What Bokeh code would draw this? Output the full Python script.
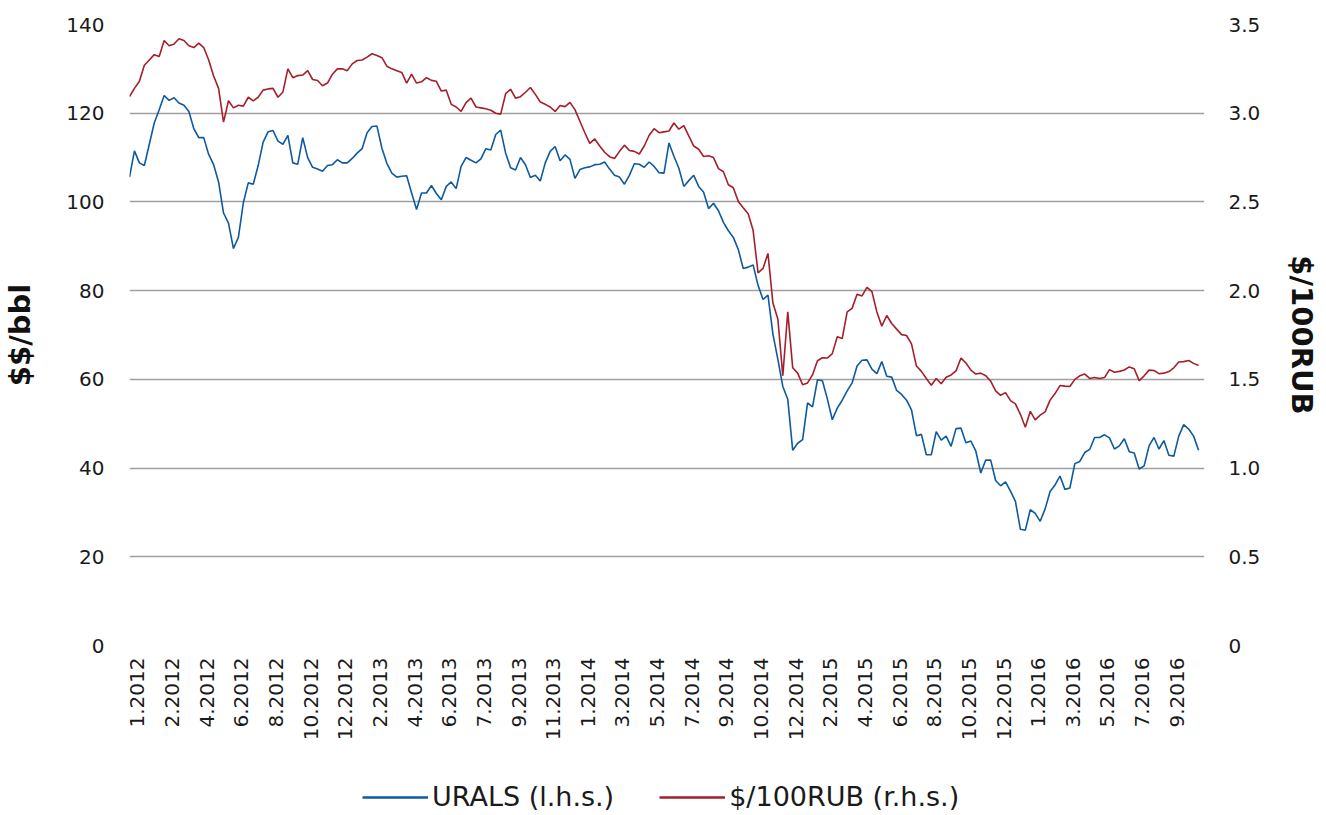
import numpy as np
from bokeh.plotting import figure
from bokeh.layouts import column
from bokeh.models import (Range1d, LinearAxis, FixedTicker, Legend, LegendItem,
                          NumeralTickFormatter)
from bokeh.embed import file_html
from bokeh.resources import INLINE

# ---- data (one sample per ~week) ----
urals = [105.6, 111.5, 108.8, 108.2, 113.0, 117.8, 120.8, 124.0, 122.9, 123.5,
         122.3, 121.8, 120.4, 116.5, 114.5, 114.5, 110.7, 108.4, 104.5, 97.5,
         95.2, 89.5, 92.0, 99.8, 104.3, 104.0, 108.2, 113.5, 115.8, 116.1,
         113.7, 113.0, 115.0, 108.8, 108.5, 114.5, 110.0, 107.8, 107.4, 106.9,
         108.2, 108.4, 109.5, 108.8, 108.8, 109.8, 111.0, 112.0, 115.6, 117.0,
         117.1, 112.1, 108.7, 106.5, 105.6, 105.8, 105.9, 102.0, 98.3, 102.0,
         102.0, 103.7, 101.9, 100.5, 103.5, 104.5, 103.0, 108.0, 110.0, 109.4,
         108.8, 109.7, 112.0, 111.7, 115.2, 116.2, 111.0, 107.7, 107.2, 110.0,
         108.4, 105.5, 106.0, 104.7, 108.8, 111.4, 112.5, 109.3, 110.6, 109.6,
         105.3, 107.3, 107.7, 107.9, 108.4, 108.5, 109.0, 107.4, 106.0, 105.6,
         104.0, 106.0, 108.6, 108.5, 107.8, 109.0, 108.0, 106.6, 106.5, 113.3,
         110.3, 107.6, 103.5, 104.8, 106.0, 103.5, 102.2, 98.5, 99.7, 98.0,
         95.4, 93.5, 92.0, 89.3, 85.0, 85.3, 85.8, 81.2, 78.0, 79.0,
         70.2, 64.5, 58.4, 55.5, 44.0, 45.6, 46.4, 54.7, 53.8, 59.9,
         59.7, 55.6, 50.9, 53.5, 55.3, 57.4, 59.2, 63.0, 64.3, 64.4,
         62.3, 61.3, 64.0, 60.7, 60.5, 57.5, 56.6, 55.3, 53.1, 47.3,
         47.6, 43.0, 43.0, 48.2, 46.3, 47.2, 44.9, 48.9, 49.0, 45.7,
         46.1, 43.8, 38.9, 41.8, 41.8, 37.2, 36.0, 36.9, 34.8, 32.5,
         26.2, 26.0, 30.6, 29.8, 28.0, 30.8, 34.7, 36.2, 38.2, 35.2,
         35.5, 41.0, 41.5, 43.5, 44.2, 46.9, 46.9, 47.5, 46.8, 44.3,
         45.0, 46.6, 43.7, 43.4, 39.8, 40.5, 45.0, 46.9, 44.3, 46.2,
         42.9, 42.7, 47.2, 49.8, 48.8, 47.2, 44.0]

usd_per_100rub = [3.094, 3.14, 3.18, 3.27, 3.30, 3.33, 3.32, 3.41, 3.38, 3.39,
                  3.42, 3.41, 3.38, 3.37, 3.395, 3.37, 3.30, 3.21, 3.14, 2.95,
                  3.07, 3.03, 3.045, 3.04, 3.09, 3.07, 3.09, 3.13, 3.137, 3.14,
                  3.09, 3.12, 3.25, 3.20, 3.212, 3.215, 3.24, 3.19, 3.184, 3.155,
                  3.17, 3.22, 3.25, 3.25, 3.24, 3.278, 3.297, 3.30, 3.316, 3.335,
                  3.325, 3.313, 3.265, 3.25, 3.24, 3.23, 3.17, 3.22, 3.17, 3.177,
                  3.20, 3.185, 3.18, 3.125, 3.13, 3.05, 3.035, 3.01, 3.06, 3.085,
                  3.035, 3.03, 3.025, 3.017, 3.00, 2.995, 3.11, 3.135, 3.085, 3.093,
                  3.118, 3.145, 3.106, 3.063, 3.05, 3.035, 3.01, 3.043, 3.037, 3.061,
                  3.02, 2.955, 2.89, 2.83, 2.855, 2.815, 2.78, 2.755, 2.745, 2.785,
                  2.82, 2.79, 2.785, 2.77, 2.815, 2.876, 2.913, 2.89, 2.895, 2.90,
                  2.945, 2.91, 2.93, 2.872, 2.815, 2.797, 2.756, 2.76, 2.75, 2.688,
                  2.67, 2.597, 2.58, 2.503, 2.467, 2.433, 2.34, 2.10, 2.125, 2.21,
                  1.93, 1.84, 1.52, 1.88, 1.565, 1.535, 1.47, 1.48, 1.525, 1.605,
                  1.622, 1.62, 1.645, 1.74, 1.73, 1.88, 1.90, 1.98, 1.97, 2.019,
                  1.995, 1.88, 1.80, 1.86, 1.815, 1.783, 1.752, 1.747, 1.70, 1.575,
                  1.545, 1.505, 1.467, 1.505, 1.475, 1.512, 1.525, 1.548, 1.62, 1.592,
                  1.552, 1.53, 1.535, 1.52, 1.49, 1.435, 1.41, 1.425, 1.38, 1.362,
                  1.303, 1.23, 1.32, 1.272, 1.298, 1.317, 1.383, 1.42, 1.465, 1.462,
                  1.46, 1.50, 1.52, 1.53, 1.505, 1.51, 1.505, 1.51, 1.555, 1.54,
                  1.545, 1.553, 1.57, 1.56, 1.493, 1.52, 1.552, 1.55, 1.532, 1.535,
                  1.544, 1.565, 1.598, 1.60, 1.606, 1.59, 1.578]

tick_labels = ["1.2012", "2.2012", "4.2012", "6.2012", "8.2012", "10.2012",
               "12.2012", "2.2013", "4.2013", "6.2013", "7.2013", "9.2013",
               "11.2013", "1.2014", "3.2014", "5.2014", "7.2014", "9.2014",
               "10.2014", "12.2014", "2.2015", "4.2015", "6.2015", "8.2015",
               "10.2015", "12.2015", "1.2016", "3.2016", "5.2016", "7.2016",
               "9.2016"]

series_names = ["URALS (l.h.s.)", "$/100RUB (r.h.s.)"]

left_ticks = [0, 20, 40, 60, 80, 100, 120, 140]
right_ticks = [0, 0.5, 1.0, 1.5, 2.0, 2.5, 3.0, 3.5]

BLUE = "#0d5aa0"
RED = "#a51f2b"
FONT = "DejaVu Sans"
TXT = "#1a1a1a"
W = 1322

x = np.arange(len(urals))
tick_pos = [1.6 + 7 * j for j in range(len(tick_labels))]

p = figure(width=W, height=770, output_backend="svg", toolbar_location=None,
           x_range=Range1d(0, 217.2), y_range=Range1d(0, 140),
           min_border_left=127, min_border_right=109, min_border_top=24,
           min_border_bottom=125)
p.outline_line_color = None
p.background_fill_color = "white"
p.border_fill_color = "white"

p.extra_y_ranges = {"rub": Range1d(0, 3.5)}

p.line(x, urals, line_color=BLUE, line_width=1.6)
p.line(x, usd_per_100rub, line_color=RED, line_width=1.6, y_range_name="rub")

# grid
p.xgrid.grid_line_color = None
p.ygrid.grid_line_color = "#a0a0a0"
p.ygrid.grid_line_width = 1.3
p.ygrid.ticker = FixedTicker(ticks=left_ticks)

# x axis
xa = p.xaxis[0]
xa.ticker = FixedTicker(ticks=tick_pos)
xa.major_label_overrides = {t: l for t, l in zip(tick_pos, tick_labels)}
xa.major_label_orientation = np.pi / 2
xa.axis_line_color = None
xa.major_tick_line_color = None
xa.minor_tick_line_color = None
xa.major_label_text_font = FONT
xa.major_label_text_font_size = "20px"
xa.major_label_text_color = TXT
xa.major_label_standoff = 6

# left axis
ya = p.yaxis[0]
ya.ticker = FixedTicker(ticks=left_ticks)
ya.axis_line_color = None
ya.major_tick_line_color = None
ya.minor_tick_line_color = None
ya.major_label_text_font = FONT
ya.major_label_text_font_size = "20px"
ya.major_label_text_color = TXT
ya.major_label_standoff = 19
ya.axis_label = "$$/bbl"
ya.axis_label_text_font = FONT
ya.axis_label_text_font_style = "bold"
ya.axis_label_text_font_size = "29px"
ya.axis_label_text_color = "#111111"
ya.axis_label_standoff = 26

# right axis
ra = LinearAxis(y_range_name="rub", ticker=FixedTicker(ticks=right_ticks),
                formatter=NumeralTickFormatter(format="0.0"))
ra.major_label_overrides = {0: "0"}
ra.axis_line_color = None
ra.major_tick_line_color = None
ra.minor_tick_line_color = None
ra.major_label_text_font = FONT
ra.major_label_text_font_size = "20px"
ra.major_label_text_color = TXT
ra.major_label_standoff = 18
ra.axis_label = "$/100RUB"
ra.axis_label_text_font = FONT
ra.axis_label_text_font_style = "bold"
ra.axis_label_text_font_size = "29px"
ra.axis_label_text_color = "#111111"
ra.axis_label_standoff = 22
p.add_layout(ra, "right")

# ---- legend strip under the chart (series drawn out of its visible range) ----
lg = figure(width=W, height=44, output_backend="svg", toolbar_location=None,
            x_range=Range1d(0, 1), y_range=Range1d(-1, 0),
            min_border_left=0, min_border_right=0, min_border_top=0,
            min_border_bottom=0)
lg.axis.visible = False
lg.grid.visible = False
lg.outline_line_color = None
lg.background_fill_color = "white"
lg.border_fill_color = "white"
k_blue = lg.line(x, urals, line_color=BLUE, line_width=2.6)
k_red = lg.line(x, usd_per_100rub, line_color=RED, line_width=2.6)

legend = Legend(items=[LegendItem(label=series_names[0], renderers=[k_blue]),
                       LegendItem(label=series_names[1], renderers=[k_red])],
                orientation="horizontal", location=(233, 2),
                border_line_color=None, background_fill_alpha=0,
                label_text_font=FONT, label_text_font_size="27px",
                label_text_color=TXT, glyph_width=66, glyph_height=24,
                label_standoff=4, spacing=45, padding=0, margin=0)
lg.add_layout(legend)

layout = column(p, lg, spacing=0)
open("out.html", "w").write(file_html(layout, INLINE))
